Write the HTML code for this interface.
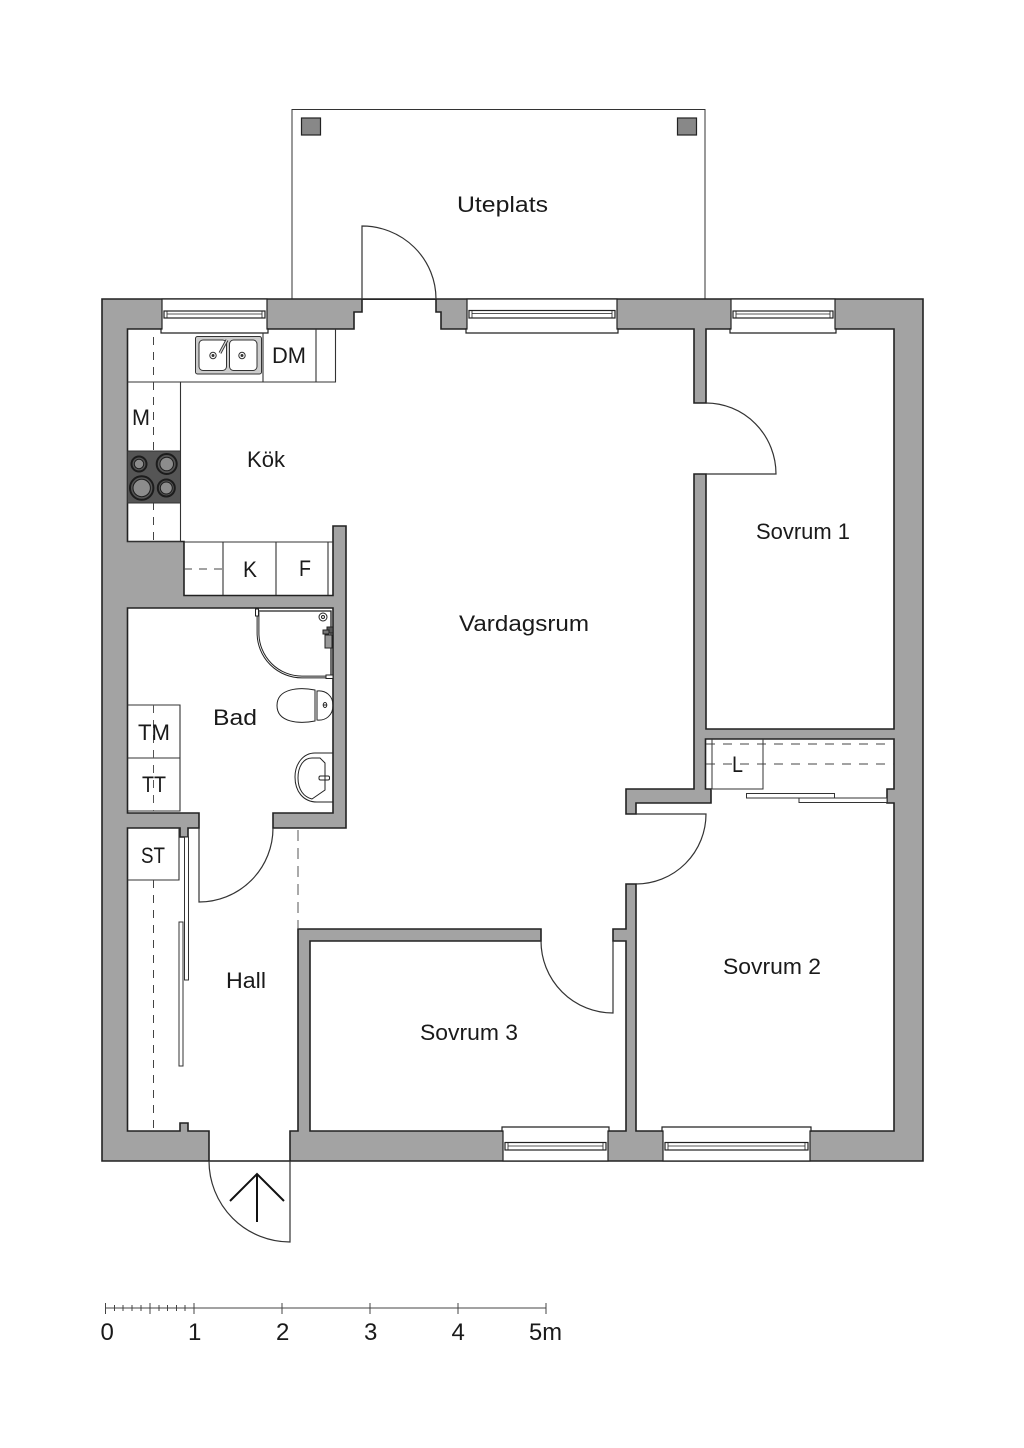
<!DOCTYPE html>
<html lang="sv"><head><meta charset="utf-8"><title>Plan</title>
<style>
html,body{margin:0;padding:0;background:#fff}
svg{display:block}
text{font-family:"Liberation Sans",sans-serif;font-size:22px;fill:#1a1a1a}
text.n{font-size:24px}
</style></head><body>
<svg width="1024" height="1448" viewBox="0 0 1024 1448" xmlns="http://www.w3.org/2000/svg">
<!-- patio -->
<rect x="292" y="109.500" width="413" height="190" fill="#fff" stroke="#333" stroke-width="1"/>
<rect x="301.500" y="118" width="19" height="17" fill="#888" stroke="#222" stroke-width="1.200"/>
<rect x="677.500" y="118" width="19" height="17" fill="#888" stroke="#222" stroke-width="1.200"/>

<!-- walls -->
<path fill-rule="evenodd" fill="#a3a3a3" stroke="#222" stroke-width="1.600" d="M102,299H923V1161H102Z
M127.500,329H354V312H362V299H436V312H441V329H694V403H706V329H894V729H706V474H694V789H626V814H636V803H711V789H705.500V739H894V789H887V803H894V1131H636V884H626V929H613V941H626V1131H310V941H541V929H298V1131H290V1161H209V1131H188V1123H180V1131H127.500V828H180V837H188V828H199V813H127.500V608H333V813H273V828H346V526H333V595.500H184V541.500H127.500Z"/>

<!-- windows -->
<g fill="#fff" stroke="#222" stroke-width="1.200">
<path d="M162,299H267V329H268V333H161V329H162Z"/>
<rect x="164" y="311" width="101" height="7"/><path d="M167,311V318M262,311V318M167,314H262" fill="none" stroke-width=".8"/>
<path d="M467,299H617V329H618V333H466V329H467Z"/>
<rect x="469" y="310.500" width="146" height="7.500"/><path d="M472,310.500V318M612,310.500V318M472,313.500H612" fill="none" stroke-width=".8"/>
<path d="M731,299H835V329H836V333H730V329H731Z"/>
<rect x="733" y="311" width="100" height="7"/><path d="M736,311V318M830,311V318M736,314H830" fill="none" stroke-width=".8"/>
<path d="M503,1161H608V1131H609V1127H502V1131H503Z"/>
<rect x="505" y="1142.500" width="101" height="7.500"/><path d="M508,1142.500V1150M603,1142.500V1150M508,1146H603" fill="none" stroke-width=".8"/>
<path d="M663,1161H810V1131H811V1127H662V1131H663Z"/>
<rect x="665" y="1142.500" width="143" height="7.500"/><path d="M668,1142.500V1150M805,1142.500V1150M668,1146H805" fill="none" stroke-width=".8"/>
</g>

<!-- doors -->
<g fill="none" stroke="#333" stroke-width="1.200">
<path d="M362,299V226A74,73 0 0 1 436,299"/>
<path d="M706,403A70,71 0 0 1 776,474H706"/>
<path d="M636,814H706A70,70 0 0 1 636,884"/>
<path d="M613,941V1013A72,72 0 0 1 541,941"/>
<path d="M199,828V902A74,74 0 0 0 273,828"/>
<path d="M209,1161A81,81 0 0 0 290,1242V1161"/>
<path d="M209,1161H290"/>
</g>
<path d="M257,1222V1175M230,1201L257,1174L284,1201" fill="none" stroke="#111" stroke-width="2"/>

<!-- kitchen -->
<g fill="none" stroke="#333" stroke-width="1.100">
<path d="M127.500,382H335.500V329M263,333V382M316,329V382"/>
<path d="M180.500,382V541.500"/>
<path d="M127.500,541.500H180.500"/>
<path d="M223,542V595M276,542V595M328,542V595"/>
<path d="M184,542H333"/>
</g>
<path d="M153.500,337V541" fill="none" stroke="#444" stroke-width="1" stroke-dasharray="8 7"/>
<path d="M184,569H223" fill="none" stroke="#444" stroke-width="1" stroke-dasharray="8 7"/>
<rect x="127.500" y="451" width="53" height="52" fill="#555" stroke="#333"/>
<g fill="#8c8c8c" stroke="#1c1c1c" stroke-width="2">
<circle cx="139" cy="464" r="7.500" fill="#555"/><circle cx="139" cy="464" r="4.700" stroke-width="1"/>
<circle cx="166.700" cy="464" r="10" fill="#555"/><circle cx="166.700" cy="464" r="6.800" stroke-width="1"/>
<circle cx="141.700" cy="488" r="11.700" fill="#555"/><circle cx="141.700" cy="488" r="8.700" stroke-width="1"/>
<circle cx="166.300" cy="488" r="8.500" fill="#555"/><circle cx="166.300" cy="488" r="6" stroke-width="1"/>
</g>
<g fill="none" stroke="#333">
<rect x="195.500" y="336.500" width="66" height="37.500" rx="2" fill="#ccc"/>
<rect x="199" y="340" width="27.500" height="30.500" rx="4" fill="#fff"/>
<rect x="229.500" y="340" width="27.500" height="30.500" rx="4" fill="#fff"/>
<circle cx="213" cy="355.500" r="3.200"/><circle cx="213" cy="355.500" r="1" fill="#333"/>
<circle cx="242" cy="355.500" r="3.200"/><circle cx="242" cy="355.500" r="1" fill="#333"/>
<path d="M220,353L227,340" stroke="#333" stroke-width="3"/>
<path d="M220,353L227,340" stroke="#ddd" stroke-width="1.200"/>
</g>

<!-- bath -->
<g fill="none" stroke="#333" stroke-width="1.100">
<path d="M127.500,705H180V811H127.500M127.500,758H180"/>
<path d="M127.500,880H179V828"/>
</g>
<path d="M153.500,705V811" fill="none" stroke="#555" stroke-width="1" stroke-dasharray="8 7"/>
<path d="M153.500,880V1131" fill="none" stroke="#444" stroke-width="1" stroke-dasharray="8 7"/>
<path d="M298,830V929" fill="none" stroke="#555" stroke-width="1" stroke-dasharray="11 7"/>
<g fill="none" stroke="#222" stroke-width="1">
<path d="M257,611H331V676" stroke-width="1.300"/>
<path d="M258,612V633A44,44 0 0 0 302,677H326" stroke-width="2.800"/>
<path d="M258,612V633A44,44 0 0 0 302,677H326" stroke="#fff" stroke-width=".8"/>
<rect x="255.500" y="609" width="3" height="7" fill="#fff"/>
<rect x="326" y="675" width="7" height="3.500" fill="#fff"/>
<circle cx="323" cy="617" r="4"/><circle cx="323" cy="617" r="1.500"/>
<rect x="327" y="627" width="6" height="6" fill="#555"/>
<rect x="323" y="630" width="6" height="4" fill="#777"/>
<rect x="325" y="635" width="7" height="13" fill="#999"/>
<path d="M315,690C300,687 277,688 277,705.500C277,723 300,724 315,721Z"/>
<path d="M317,691V720C326,721 333,715 333,705.500C333,696 326,690 317,691Z"/>
<path d="M315,690V721"/>
<ellipse cx="325" cy="705" rx="1.800" ry="2.500"/><path d="M323,705H327"/>
<path d="M333,753H315C303,753 295,764 295,777C295,791 303,802 317,802H333"/>
<path d="M325,763L320,758H312C303,758 298,767 298,778C298,790 304,797 312,799L325,790Z"/>
<rect x="319" y="776" width="10.500" height="4" rx="1.500"/>
</g>

<!-- closet -->
<g fill="none" stroke="#333" stroke-width="1">
<path d="M712,739V789M763,739V789H712"/>
</g>
<path d="M706,744H894M706,764H894" fill="none" stroke="#444" stroke-width="1" stroke-dasharray="9 8"/>
<rect x="746.500" y="793.500" width="88" height="4.500" fill="#fff" stroke="#333"/>
<rect x="799" y="798" width="88" height="4.500" fill="#fff" stroke="#333"/>

<!-- hall wardrobe -->
<rect x="184.500" y="837" width="4" height="143" fill="#fff" stroke="#333"/>
<rect x="179" y="922" width="4" height="144" fill="#fff" stroke="#333"/>

<!-- labels -->
<text x="457" y="212" textLength="91" lengthAdjust="spacingAndGlyphs">Uteplats</text>
<text x="247" y="467" textLength="38" lengthAdjust="spacingAndGlyphs">Kök</text>
<text x="272" y="363" textLength="34" lengthAdjust="spacingAndGlyphs">DM</text>
<text x="132" y="425" textLength="18" lengthAdjust="spacingAndGlyphs">M</text>
<text x="243" y="577" textLength="14" lengthAdjust="spacingAndGlyphs">K</text>
<text x="299" y="576" textLength="12" lengthAdjust="spacingAndGlyphs">F</text>
<text x="459" y="631" textLength="130" lengthAdjust="spacingAndGlyphs">Vardagsrum</text>
<text x="213" y="725" textLength="44" lengthAdjust="spacingAndGlyphs">Bad</text>
<text x="138" y="740" textLength="32" lengthAdjust="spacingAndGlyphs">TM</text>
<text x="142" y="792" textLength="24" lengthAdjust="spacingAndGlyphs">TT</text>
<text x="141" y="863" textLength="24" lengthAdjust="spacingAndGlyphs">ST</text>
<text x="226" y="988" textLength="40" lengthAdjust="spacingAndGlyphs">Hall</text>
<text x="756" y="539" textLength="94" lengthAdjust="spacingAndGlyphs">Sovrum 1</text>
<text x="723" y="974" textLength="98" lengthAdjust="spacingAndGlyphs">Sovrum 2</text>
<text x="420" y="1040" textLength="98" lengthAdjust="spacingAndGlyphs">Sovrum 3</text>
<text x="732" y="772" textLength="11" lengthAdjust="spacingAndGlyphs">L</text>

<!-- scale -->
<g fill="none" stroke="#444" stroke-width="1">
<path d="M105.500,1308H546"/>
<path d="M105.500,1303V1314M194,1303V1314M282,1303V1314M370,1303V1314M458,1303V1314M546,1303V1314M150,1303V1314"/>
<path d="M114.500,1305V1311M123,1305V1311M132,1305V1311M141,1305V1311M159,1305V1311M167.500,1305V1311M176.500,1305V1311M185,1305V1311"/>
</g>
<text class="n" x="100.500" y="1340">0</text>
<text class="n" x="188" y="1340">1</text>
<text class="n" x="276" y="1340">2</text>
<text class="n" x="364" y="1340">3</text>
<text class="n" x="451.500" y="1340">4</text>
<text class="n" x="529" y="1340" textLength="33" lengthAdjust="spacingAndGlyphs">5m</text>
</svg>
</body></html>
